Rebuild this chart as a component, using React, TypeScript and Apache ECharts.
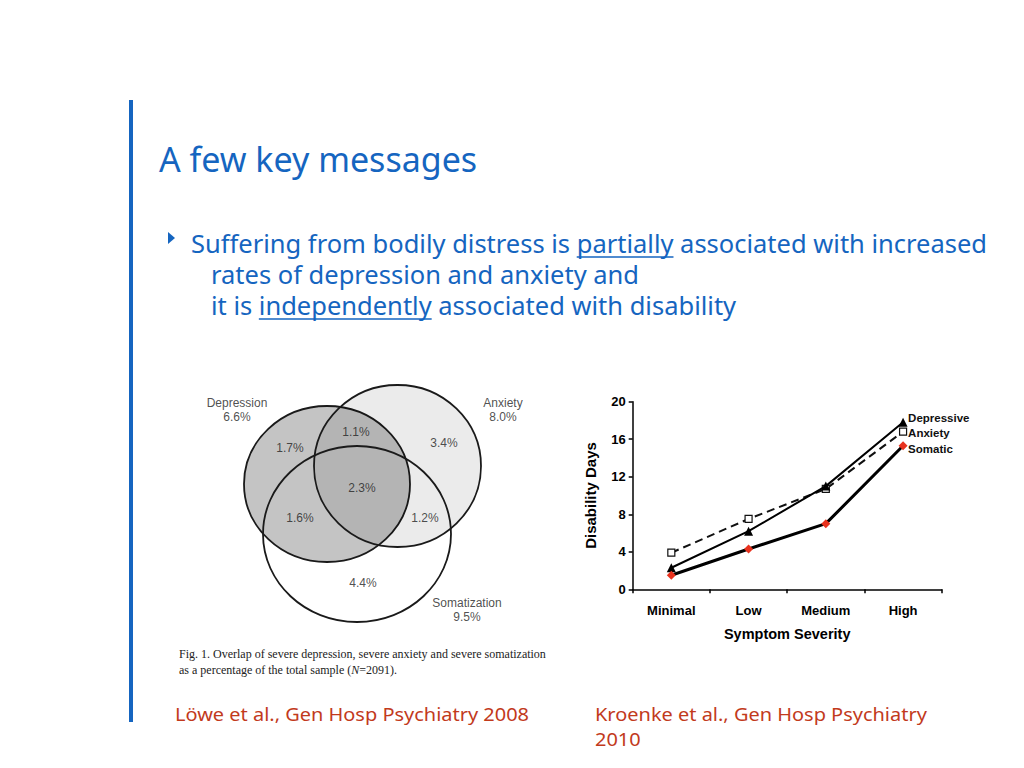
import * as echarts from "echarts";
import { useEffect, useRef } from "react";

const BLUE = "#1565c0";
const RED = "#c23a1c";
const SANS = "'Noto Sans', sans-serif";
const ARIAL = "'Liberation Sans', Arial, sans-serif";
const SERIF = "'Liberation Serif', serif";

// line chart (Kroenke et al.)
const severity = ["Minimal", "Low", "Medium", "High"];
const depressive = [2.3, 6.2, 11.0, 17.8];
const anxiety = [3.9, 7.5, 10.7, 16.8];
const somatic = [1.5, 4.3, 7.0, 15.3];
const seriesNames = ["Depressive", "Anxiety", "Somatic"];

// venn diagram (Löwe et al.)
const vennSets = ["Depression", "Anxiety", "Somatization"];
const vennTotals = ["6.6%", "8.0%", "9.5%"];
const vennRegions = ["1.7%", "1.1%", "3.4%", "2.3%", "1.6%", "1.2%", "4.4%"];

// circle geometry in the venn grid's own units
const vennCircles = [
  [137, 104, 83, 78],
  [207.5, 86, 83.5, 81],
  [167, 154, 94, 88],
];
const vennFills = ["rgba(0,0,0,0.23)", "rgba(0,0,0,0.08)", "rgba(0,0,0,0)"];
const vennRegionPos = [
  [100, 68],
  [166, 52],
  [254, 63],
  [172, 108],
  [110, 138],
  [235, 138],
  [173, 203],
];
const vennSetPos = [
  [47, 30],
  [313, 30],
  [277, 230],
];

const titleText = "A few key messages";
const line1 = ["Suffering from bodily distress is ", "partially", " associated with increased"];
const line2 = "rates of depression and anxiety and";
const line3 = ["it is ", "independently", " associated with disability"];

function measure(text: string, font: string) {
  const ctx = document.createElement("canvas").getContext("2d")!;
  ctx.font = font;
  return ctx.measureText(text).width;
}

function txt(text: string, x: number, y: number, font: string, fill: string, scaleX = 1, extra = {}) {
  return {
    type: "text",
    silent: true,
    x,
    y,
    scaleX,
    style: {
      text,
      x: 0,
      y: 0,
      font,
      fill,
      textAlign: "left",
      align: "left",
      textVerticalAlign: "middle",
      verticalAlign: "middle",
      ...extra,
    },
  };
}

function buildOption() {
  const bodyFont = `25px ${SANS}`;
  const bodyScale = 1.02;
  const u1x = 191 + measure(line1[0], bodyFont) * bodyScale;
  const u1w = measure(line1[1], bodyFont) * bodyScale;
  const u3x = 211 + measure(line3[0], bodyFont) * bodyScale;
  const u3w = measure(line3[1], bodyFont) * bodyScale;

  const graphic: any[] = [
    { type: "rect", shape: { x: 129, y: 100, width: 4, height: 622 }, style: { fill: BLUE } },
    txt(titleText, 159, 159, `34px ${SANS}`, BLUE),
    { type: "polygon", shape: { points: [[168, 232], [175, 238], [168, 244]] }, style: { fill: BLUE } },
    txt(line1.join(""), 191, 243, bodyFont, BLUE, bodyScale),
    txt(line2, 211, 274, bodyFont, BLUE, bodyScale),
    txt(line3.join(""), 211, 305, bodyFont, BLUE, bodyScale),
    { type: "line", shape: { x1: u1x, y1: 257, x2: u1x + u1w, y2: 257 }, style: { stroke: BLUE, lineWidth: 1.5 } },
    { type: "line", shape: { x1: u3x, y1: 319, x2: u3x + u3w, y2: 319 }, style: { stroke: BLUE, lineWidth: 1.5 } },
    txt("Fig. 1. Overlap of severe depression, severe anxiety and severe somatization", 179, 654, `12px ${SERIF}`, "#222"),
    txt("as a percentage of the total sample ({i|N}=2091).", 179, 670, `12px ${SERIF}`, "#222", 1, {
      rich: { i: { fontStyle: "italic", font: `italic 12px ${SERIF}`, fill: "#222" } },
    }),
    txt("Löwe et al., Gen Hosp Psychiatry 2008", 175, 714, `18px ${SANS}`, RED, 1.11),
    txt("Kroenke et al., Gen Hosp Psychiatry", 595, 714, `18px ${SANS}`, RED, 1.11),
    txt("2010", 595, 739, `18px ${SANS}`, RED, 1.11),
  ];

  const lineLabel = (dy: number) => ({
    show: true,
    formatter: "{a}",
    distance: 5,
    offset: [0, dy],
    fontFamily: ARIAL,
    fontWeight: "bold",
    fontSize: 11.5,
    color: "#111",
  });

  return {
    animation: false,
    backgroundColor: "#fff",
    graphic,
    grid: [
      { left: 632.7, top: 401.7, width: 309, height: 187.6 },
      { left: 190, top: 380, width: 370, height: 300 },
    ],
    xAxis: [
      {
        type: "category",
        gridIndex: 0,
        data: severity,
        boundaryGap: true,
        axisLine: { lineStyle: { color: "#000", width: 1.5 } },
        axisTick: { show: true, length: 4, lineStyle: { color: "#000", width: 1.5 } },
        axisLabel: { margin: 15, color: "#000", fontFamily: ARIAL, fontWeight: "bold", fontSize: 13 },
        name: "Symptom Severity",
        nameLocation: "middle",
        nameGap: 37,
        nameTextStyle: { color: "#000", fontFamily: ARIAL, fontWeight: "bold", fontSize: 14.5 },
        splitLine: { show: false },
      },
      { type: "value", gridIndex: 1, min: 0, max: 370, show: false },
    ],
    yAxis: [
      {
        type: "value",
        gridIndex: 0,
        min: 0,
        max: 20,
        interval: 4,
        axisLine: { show: true, lineStyle: { color: "#000", width: 1.5 } },
        axisTick: { show: true, length: 4, lineStyle: { color: "#000", width: 1.5 } },
        axisLabel: { margin: 7, color: "#000", fontFamily: ARIAL, fontWeight: "bold", fontSize: 13 },
        splitLine: { show: false },
        name: "Disability Days",
        nameLocation: "middle",
        nameGap: 35,
        nameTextStyle: { color: "#000", fontFamily: ARIAL, fontWeight: "bold", fontSize: 15 },
      },
      { type: "value", gridIndex: 1, min: 0, max: 300, inverse: true, show: false },
    ],
    series: [
      {
        name: seriesNames[1],
        type: "line",
        xAxisIndex: 0,
        yAxisIndex: 0,
        data: anxiety,
        symbol: "rect",
        symbolSize: 7,
        itemStyle: { color: "#fff", borderColor: "#111", borderWidth: 1.2 },
        lineStyle: { color: "#111", width: 2, type: [8, 5] },
        endLabel: lineLabel(1),
        z: 2,
      },
      {
        name: seriesNames[0],
        type: "line",
        xAxisIndex: 0,
        yAxisIndex: 0,
        data: depressive,
        symbol: "triangle",
        symbolSize: 9,
        itemStyle: { color: "#000" },
        lineStyle: { color: "#000", width: 2 },
        endLabel: lineLabel(-4),
        z: 3,
      },
      {
        name: seriesNames[2],
        type: "line",
        xAxisIndex: 0,
        yAxisIndex: 0,
        data: somatic,
        symbol: "diamond",
        symbolSize: 9,
        itemStyle: { color: "#e8321e" },
        lineStyle: { color: "#000", width: 3 },
        endLabel: lineLabel(3),
        z: 4,
      },
      {
        type: "custom",
        xAxisIndex: 1,
        yAxisIndex: 1,
        clip: false,
        silent: true,
        data: vennCircles,
        encode: { x: 0, y: 1 },
        renderItem: (params: any, api: any) => {
          const c = api.coord([api.value(0), api.value(1)]);
          const s = api.size([api.value(2), api.value(3)]);
          return {
            type: "ellipse",
            shape: { cx: c[0], cy: c[1], rx: s[0], ry: s[1] },
            style: { fill: vennFills[params.dataIndex], stroke: "#1a1a1a", lineWidth: 1.8 },
          };
        },
      },
      {
        type: "scatter",
        xAxisIndex: 1,
        yAxisIndex: 1,
        silent: true,
        symbolSize: 1,
        itemStyle: { color: "rgba(0,0,0,0)" },
        data: [
          ...vennRegions.map((v, i) => ({ name: v, value: vennRegionPos[i] })),
          ...vennSets.map((v, i) => ({ name: `${v}\n${vennTotals[i]}`, value: vennSetPos[i] })),
        ],
        label: {
          show: true,
          position: "inside",
          formatter: "{b}",
          fontFamily: ARIAL,
          fontSize: 12,
          lineHeight: 14,
          color: "#222",
          textBorderWidth: 0,
        },
        z: 5,
      },
    ],
  };
}

export default function App() {
  const ref = useRef<HTMLDivElement>(null);

  useEffect(() => {
    if (!ref.current) return;
    const chart = echarts.init(ref.current, undefined, { renderer: "svg" });
    chart.setOption(buildOption() as any);
    return () => chart.dispose();
  }, []);

  return (
    <div
      ref={ref}
      style={{ position: "absolute", left: 0, top: 0, width: 1024, height: 768, background: "#fff" }}
    />
  );
}
